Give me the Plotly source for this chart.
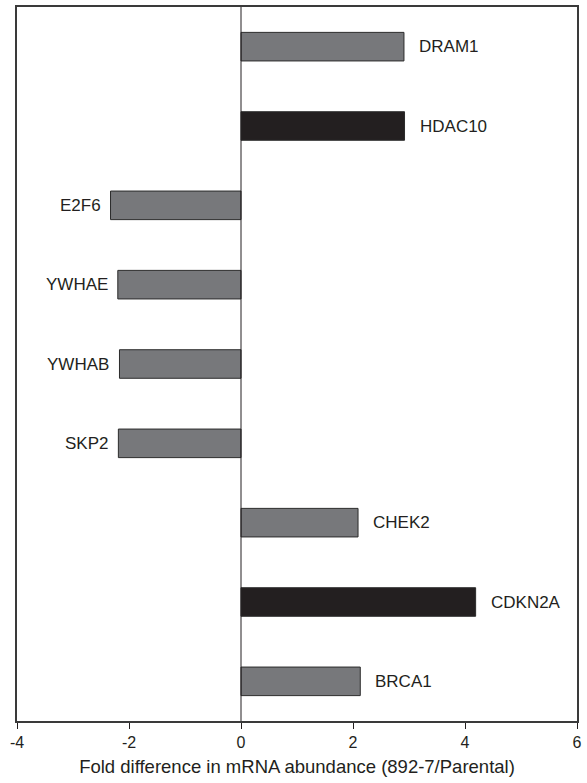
import plotly.graph_objects as go

# Fold changes in mRNA abundance, top to bottom
genes = ["DRAM1", "HDAC10", "E2F6", "YWHAE", "YWHAB", "SKP2", "CHEK2", "CDKN2A", "BRCA1"]
fold_change = [2.91, 2.92, -2.33, -2.20, -2.17, -2.19, 2.09, 4.19, 2.13]
highlight = [False, True, False, False, False, False, False, True, False]

tick_vals = [-4, -2, 0, 2, 4, 6]
tick_text = ["-4", "-2", "0", "2", "4", "6"]

GREY = "#77787b"
BLACK = "#231f20"
FONT = "Liberation Sans, Arial, sans-serif"

colors = [BLACK if h else GREY for h in highlight]

fig = go.Figure()
fig.add_trace(go.Bar(
    x=fold_change,
    y=genes,
    orientation="h",
    marker=dict(color=colors, line=dict(color="#2b2b2b", width=1)),
    width=0.36,
    hoverinfo="x+y",
))

# Gene labels beside the end of each bar
for g, v in zip(genes, fold_change):
    fig.add_annotation(
        x=v, y=g, text=g, showarrow=False,
        xanchor="left" if v > 0 else "right",
        xshift=13 if v > 0 else -8,
        font=dict(family=FONT, size=17, color="#231f20"),
    )

# Vertical zero line
fig.add_shape(type="line", x0=0, x1=0, y0=0, y1=1, yref="paper",
              line=dict(color="#231f20", width=1))

fig.update_layout(
    width=587, height=783,
    margin=dict(l=17, r=5, t=7, b=62),
    plot_bgcolor="white", paper_bgcolor="white",
    showlegend=False,
    font=dict(family=FONT, color="#231f20"),
    xaxis=dict(
        range=[-4, 6], tickvals=tick_vals, ticktext=tick_text,
        ticks="outside", ticklen=6, tickcolor="#231f20",
        showgrid=False, zeroline=False,
        showline=True, linecolor="#3a3a3a", linewidth=1.5, mirror=True,
        tickfont=dict(size=16),
        title=dict(text="Fold difference in mRNA abundance (892-7/Parental)",
                   font=dict(size=18.5), standoff=10),
    ),
    yaxis=dict(
        categoryorder="array", categoryarray=genes[::-1],
        range=[-0.5, 8.5],
        showticklabels=False, ticks="",
        showgrid=False, zeroline=False,
        showline=True, linecolor="#3a3a3a", linewidth=1.5, mirror=True,
    ),
)

fig.write_html("out.html")
